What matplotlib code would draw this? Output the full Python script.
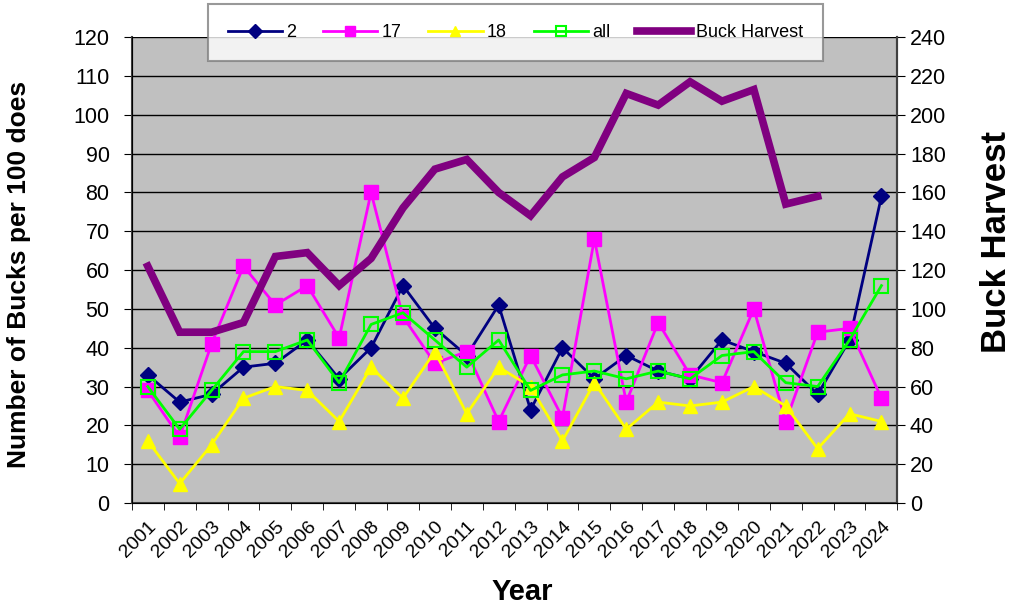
import numpy as np
import matplotlib.pyplot as plt
from matplotlib.lines import Line2D

plt.rcParams['font.family'] = ['Liberation Sans', 'DejaVu Sans']

# Datos
years = [str(y) for y in range(2001, 2025)]
unit2 = [33, 26, 28, 35, 36, 42, 32, 40, 56, 45, 38, 51, 24, 40, 32, 38,
         34, 32, 42, 39, 36, 28, 42, 79]
unit17 = [29, 17, 41, 61, 51, 56, 42.5, 80, 48, 36, 39, 21, 38, 22, 68, 26,
          46.5, 33, 31, 50, 21, 44, 45, 27]
unit18 = [16, 5, 15, 27, 30, 29, 21, 35, 27, 39, 23, 35, 30, 16, 31, 19,
          26, 25, 26, 30, 25, 14, 23, 21]
unit_all = [30, 19, 29, 39, 39, 42, 31, 46, 49, 42, 35, 42, 29, 33, 34, 32,
            34, 32, 38, 39, 31, 30, 42, 56]
buck_harvest = [122, 88, 88, 93, 127, 129, 112, 126, 152, 172, 177, 160, 148,
                168, 178, 211, 205, 217, 207, 213, 154, 158]

x = np.arange(len(years))
xh = np.arange(len(buck_harvest))

fig = plt.figure(figsize=(10.14, 6.09), dpi=100)
ax = fig.add_axes([0.130, 0.174, 0.755, 0.765])
ax.set_facecolor('#C0C0C0')

ax.plot(x, unit2, color='#000080', lw=2, marker='D', ms=8, label='2', zorder=3)
ax.plot(x, unit17, color='#FF00FF', lw=2, marker='s', ms=9.5, label='17', zorder=3)
ax.plot(x, unit18, color='#FFFF00', lw=2, marker='^', ms=10, label='18', zorder=3)
ax.plot(x, unit_all, color='#00FF00', lw=2, marker='s', ms=9.5, mfc='none',
        mew=1.5, label='all', zorder=3)

ax.set_xlim(-0.5, len(years) - 0.5)
ax.set_ylim(0, 120)
ax.set_yticks(np.arange(0, 121, 10))
ax.grid(axis='y', color='black', lw=1)
ax.set_axisbelow(True)

ax.set_xticks(x)
ax.set_xticklabels(years, rotation=45, ha='right', rotation_mode='anchor',
                   fontsize=14)
ax.set_xticks(np.arange(-0.5, len(years), 1), minor=True)
ax.tick_params(axis='x', which='major', length=0, pad=11)
ax.tick_params(axis='x', which='minor', length=5, direction='out')
ax.tick_params(axis='y', labelsize=15.5, length=6, direction='out', pad=10)

ax.spines['top'].set_visible(False)
for s in ['left', 'bottom', 'right']:
    ax.spines[s].set_color('#404040')
    ax.spines[s].set_linewidth(1.5)

ax2 = ax.twinx()
ax2.plot(xh, buck_harvest, color='#800080', lw=5.5, solid_joinstyle='miter',
         label='Buck Harvest')
ax2.set_ylim(0, 240)
ax2.set_yticks(np.arange(0, 241, 20))
ax2.tick_params(axis='y', labelsize=15.5, length=6, direction='out', pad=3)
ax2.spines['top'].set_visible(False)
ax2.spines['right'].set_color('#404040')
ax2.spines['right'].set_linewidth(1.5)

# Titulos de los ejes
fig.text(522 / 1014, 1 - 592 / 609, 'Year', fontsize=21, fontweight='bold',
         ha='center', va='center')
fig.text(19 / 1014, 1 - 274 / 609, 'Number of Bucks per 100 does', fontsize=19,
         fontweight='bold', rotation=90, ha='center', va='center')
fig.text(997 / 1014, 1 - 242 / 609, 'Buck Harvest', fontsize=25,
         fontweight='bold', rotation=90, ha='center', va='center')

h1, l1 = ax.get_legend_handles_labels()
h2, l2 = ax2.get_legend_handles_labels()
leg = fig.legend(h1 + h2, l1 + l2, ncol=5, loc='center',
                 bbox_to_anchor=(199 / 1014, 1 - 60 / 609, 633 / 1014, 55 / 609),
                 mode='expand', fontsize=13, handlelength=3.0, frameon=True,
                 fancybox=False, edgecolor='#808080', borderpad=1.1,
                 columnspacing=1.5, handletextpad=0.25)
leg.get_frame().set_linewidth(1.5)
for h in leg.legend_handles:
    if isinstance(h, Line2D) and h.get_label() != 'Buck Harvest':
        h.set_markersize(7)

fig.savefig('out.png', dpi=100)
